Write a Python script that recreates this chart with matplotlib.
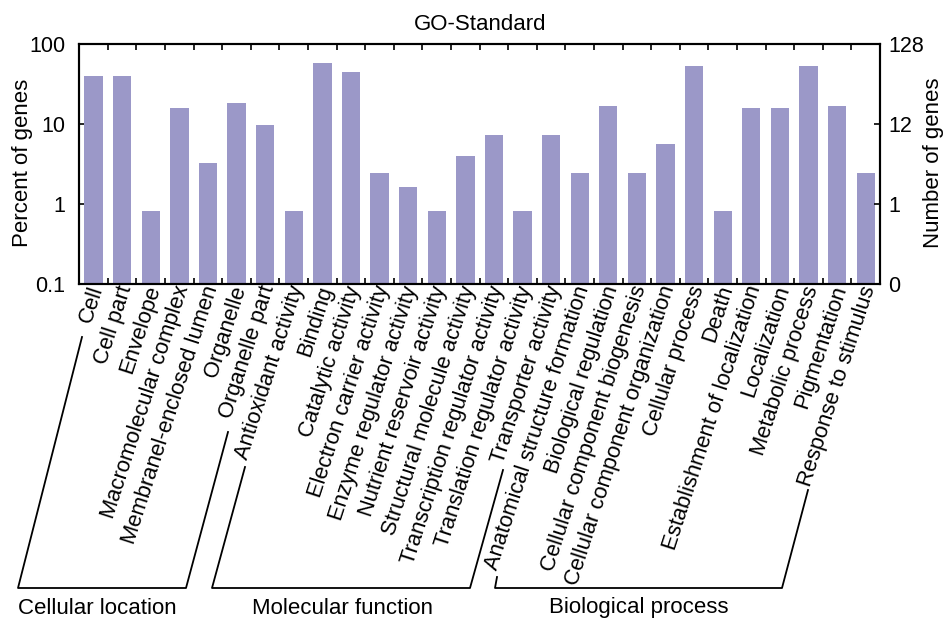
import matplotlib
matplotlib.use("Agg")
import matplotlib.pyplot as plt
import matplotlib.transforms as mtransforms
import numpy as np
from matplotlib.lines import Line2D

plt.rcParams['font.family'] = ['Liberation Sans', 'DejaVu Sans']

categories = ["Cell", "Cell part", "Envelope", "Macromolecular complex",
              "Membranel-enclosed lumen", "Organelle", "Organelle part",
              "Antioxidant activity", "Binding", "Catalytic activity",
              "Electron carrier activity", "Enzyme regulator activity",
              "Nutrient reservoir activity", "Structural molecule activity",
              "Transcription regulator activity", "Translation regulator activity",
              "Transporter activity", "Anatomical structure formation",
              "Biological regulation", "Cellular component biogenesis",
              "Cellular component organization", "Cellular process", "Death",
              "Establishment of localization", "Localization", "Metabolic process",
              "Pigmentation", "Response to stimulus"]
percent = [40.0, 40.0, 0.8, 16.0, 3.2, 18.4, 9.6,
           0.8, 58.4, 44.8, 2.4, 1.6, 0.8, 4.0, 7.2, 0.8, 7.2,
           2.4, 16.8, 2.4, 5.6, 52.8, 0.8, 16.0, 16.0, 52.8, 16.8, 2.4]
groups = ["Cellular location", "Molecular function", "Biological process"]
left_ticks = [0.1, 1, 10, 100]
left_ticklabels = ["0.1", "1", "10", "100"]
right_ticklabels = ["0", "1", "12", "128"]

W, H = 944, 619
fig = plt.figure(figsize=(W / 100, H / 100), dpi=100)
ax_l, ax_r, ax_t, ax_b = 79.3, 880, 44, 283.5
ax = fig.add_axes([ax_l / W, 1 - ax_b / H, (ax_r - ax_l) / W, (ax_b - ax_t) / H])

x = np.arange(len(categories))
ax.set_yscale('log')
ax.bar(x, percent, width=0.64, color='#9b98c8', zorder=2)
ax.set_ylim(0.1, 100)
ax.set_xlim(-0.5, len(categories) - 0.5)

ax.set_yticks(left_ticks)
ax.set_yticklabels(left_ticklabels)
ax.yaxis.set_minor_locator(matplotlib.ticker.NullLocator())
ax.tick_params(axis='y', direction='in', length=4, width=1.2, labelsize=15.5, pad=10)

ax.set_xticks(x)
ax.set_xticklabels(categories, rotation=72, ha='right', va='center',
                   rotation_mode='anchor', fontsize=15.8)
ax.tick_params(axis='x', which='major', length=0, pad=2)
offset = mtransforms.ScaledTranslation(4 / 100, 0, fig.dpi_scale_trans)
for lbl in ax.get_xticklabels():
    lbl.set_transform(lbl.get_transform() + offset)
ax.set_xticks(np.arange(len(categories) + 1) - 0.5, minor=True)
ax.tick_params(axis='x', which='minor', direction='in', length=4, width=1.2,
               top=True, bottom=True)

for s in ax.spines.values():
    s.set_linewidth(1.5)

ax.set_title("GO-Standard", fontsize=16, pad=10)
fig.text(23 / W, 1 - 163 / H, "Percent of genes", rotation=90, ha='center',
         va='center', fontsize=16)

ax2 = ax.twinx()
ax2.set_yscale('log')
ax2.set_ylim(0.1, 100)
ax2.set_yticks(left_ticks)
ax2.set_yticklabels(right_ticklabels)
ax2.yaxis.set_minor_locator(matplotlib.ticker.NullLocator())
ax2.tick_params(axis='y', direction='in', length=4, width=1.2, labelsize=15.5, pad=6)
for s in ax2.spines.values():
    s.set_linewidth(1.5)
fig.text(933 / W, 1 - 163 / H, "Number of genes", rotation=90, ha='center',
         va='center', fontsize=16)

# group brackets (pixel layout)
brackets = [
    [(82, 337), (18, 588), (186, 588), (228, 432)],
    [(245, 467), (212, 588), (470, 588), (503, 470)],
    [(497, 577), (495, 588), (782, 588), (808, 490)],
]
label_pos = [(97, 608), (342, 608), (639, 608)]
for pts, name, (lx, ly) in zip(brackets, groups, label_pos):
    xs = [p[0] / W for p in pts]
    ys = [1 - p[1] / H for p in pts]
    fig.add_artist(Line2D(xs, ys, color='black', lw=1.3))
    fig.text(lx / W, 1 - ly / H, name, ha='center', va='center', fontsize=16)

fig.savefig("out.png", dpi=100)
